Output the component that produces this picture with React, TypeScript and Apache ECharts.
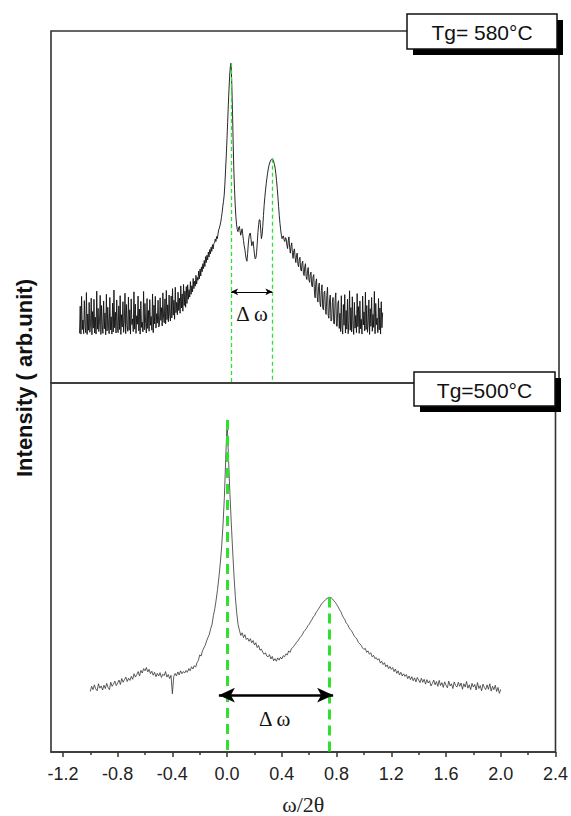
import { useEffect, useRef } from "react";
import * as echarts from "echarts";

// Tg = 580 °C scan, evenly sampled in ω/2θ
const TOP_X_START = -1.08;
const TOP_X_STEP = 0.005;
const topIntensity = [
  // -1.080 … -0.505
  14.1, 21.8, 13.9, 24.6, 15.2, 17.9, 14.0, 23.4, 16.1, 14.3, 25.7, 13.8, 19.6, 15.0, 22.9, 14.4, 16.8, 24.1, 13.7, 20.3,
  15.6, 23.8, 14.2, 18.7, 13.9, 26.1, 15.3, 21.2, 14.6, 17.4, 24.9, 13.8, 22.0, 16.2, 14.1, 23.3, 15.4, 19.9, 13.7, 25.2,
  14.8, 21.5, 16.4, 14.0, 24.3, 15.1, 18.8, 13.9, 22.7, 14.5, 26.4, 15.7, 20.1, 14.2, 23.6, 16.0, 14.3, 21.9, 15.2, 24.8,
  13.8, 19.4, 15.9, 23.1, 14.4, 17.6, 25.5, 14.0, 22.3, 16.3, 14.7, 24.4, 15.0, 20.8, 13.9, 23.9, 16.6, 18.2, 14.6, 25.9,
  15.3, 22.4, 14.1, 19.1, 16.7, 24.7, 14.8, 21.0, 13.9, 23.2, 15.8, 17.3, 14.5, 26.0, 15.1, 22.6, 16.9, 14.2, 24.0, 15.5,
  20.6, 14.7, 23.7, 16.4, 18.9, 15.0, 25.3, 14.3, 22.1, 16.8, 24.6, 15.6, 19.7, 17.0, 23.5, 15.9,
  // -0.500 … -0.305
  16.5, 24.2, 17.8, 21.4, 16.2, 25.6, 18.4, 17.1, 23.9, 16.8, 26.3, 18.0, 22.2, 17.4, 25.0, 19.1, 17.6, 24.7, 18.5, 26.8,
  19.3, 23.5, 18.1, 27.2, 20.0, 22.9, 19.4, 25.8, 20.6, 24.1, 19.8, 27.6, 21.3, 25.3, 20.4, 28.0, 22.0, 26.1, 21.5, 27.4,
  // -0.300 … -0.105
  22.6, 27.9, 23.8, 26.5, 24.4, 28.8, 25.2, 27.6, 25.9, 29.7, 26.8, 28.9, 27.5, 30.6, 28.1, 30.0, 29.2, 31.8, 29.6, 32.4,
  30.4, 33.0, 31.6, 33.9, 32.5, 34.8, 33.1, 35.9, 34.2, 36.3, 35.0, 37.2, 35.8, 37.9, 36.7, 38.6, 37.4, 39.3, 38.1, 39.6,
  // -0.100 … 0.095
  39.8, 40.9, 40.2, 41.6, 41.0, 42.3, 43.5, 44.0, 44.8, 45.7, 47.0, 48.4, 50.2, 51.6, 53.4, 56.5, 60.5, 64.5, 69.0, 74.0,
  79.0, 83.5, 87.5, 90.0, 90.9, 85.0, 77.6, 68.5, 60.5, 55.0, 50.6, 47.2, 44.9, 43.6, 43.0, 44.1, 44.5, 43.2, 42.0, 42.9,
  // 0.100 … 0.295
  43.8, 42.1, 40.5, 39.0, 38.0, 36.4, 35.2, 34.6, 36.8, 39.5, 41.5, 42.4, 42.6, 40.8, 39.0, 39.6, 40.2, 38.3, 36.4, 35.3,
  35.5, 37.0, 39.8, 42.8, 45.0, 46.4, 46.3, 43.5, 41.0, 42.0, 44.5, 47.6, 50.5, 52.8, 54.8, 56.6, 58.2, 59.6, 60.8, 61.8,
  // 0.300 … 0.495
  62.5, 63.0, 63.4, 63.6, 63.7, 63.4, 62.8, 62.0, 61.0, 59.5, 57.5, 55.3, 52.8, 50.1, 47.5, 45.3, 43.5, 42.0, 41.0, 41.6,
  41.8, 40.6, 40.2, 41.3, 40.9, 39.2, 38.2, 40.4, 41.5, 38.6, 36.9, 38.8, 39.8, 37.0, 35.4, 37.5, 38.1, 35.6, 34.2, 36.3,
  // 0.500 … 0.795
  36.9, 33.8, 33.0, 35.2, 35.7, 32.4, 31.8, 34.0, 34.6, 31.2, 30.5, 33.1, 33.9, 30.2, 29.4, 32.0, 32.8, 29.3, 28.6, 31.0,
  31.5, 27.8, 27.3, 30.2, 30.8, 25.9, 24.2, 28.6, 29.6, 24.5, 23.0, 27.4, 28.4, 22.8, 21.7, 26.3, 27.9, 21.4, 20.8, 25.7,
  26.1, 20.3, 19.5, 24.9, 27.2, 19.2, 18.4, 23.6, 25.0, 17.6, 17.9, 22.8, 24.3, 16.9, 16.8, 23.5, 25.6, 16.2, 16.1, 22.7,
  // 0.800 … 1.120
  23.4, 15.5, 19.8, 14.6, 24.8, 15.9, 13.9, 22.3, 16.4, 25.1, 14.2, 20.6, 15.3, 23.8, 14.0, 17.7, 26.2, 15.0, 21.4, 14.5,
  24.5, 16.3, 13.8, 22.9, 15.6, 19.2, 14.3, 25.4, 16.0, 21.7, 14.1, 23.3, 15.4, 18.1, 13.9, 24.7, 16.5, 20.2, 14.8, 25.8,
  15.2, 22.0, 14.4, 17.0, 23.6, 13.8, 21.1, 16.1, 24.3, 14.7, 19.5, 15.8, 26.0, 14.0, 22.6, 16.6, 18.4, 14.3, 24.0, 15.1,
  21.3, 13.9, 23.1, 15.7, 20.0,
];
const topPeakIndex = [220, 280];

// Tg = 500 °C scan
const BOTTOM_X_START = -1.0;
const BOTTOM_X_STEP = 0.01;
const bottomIntensity = [
  16.4, 17.8, 16.9, 18.2, 17.1, 16.6, 18.5, 17.3, 17.9, 16.8,
  18.1, 17.2, 18.6, 17.5, 16.9, 18.9, 17.8, 18.4, 19.2, 18.0,
  18.7, 19.5, 18.3, 19.9, 18.9, 19.6, 20.3, 19.1, 20.0, 19.4,
  20.5, 19.7, 21.2, 20.3, 21.0, 21.8, 20.6, 22.1, 21.4, 22.6,
  22.0, 22.9, 21.7, 22.4, 21.2, 21.9, 20.8, 21.6, 20.4, 21.3,
  20.6, 21.5, 20.2, 21.1, 20.7, 21.8, 20.3, 21.0, 19.9, 20.8,
  15.8, 20.4, 21.3, 20.6, 21.7, 20.9, 22.0, 21.2, 21.8, 21.4,
  22.1, 21.6, 22.6, 22.0, 23.1, 22.5, 23.4, 23.0, 24.2, 24.8,
  26.3, 26.0, 27.4, 28.2, 28.9, 30.1, 31.0, 31.9, 33.4, 34.6,
  37.0, 38.8, 41.2, 44.0, 47.3, 51.0, 55.6, 61.5, 69.0, 79.5,
  90.0, 80.0, 70.5, 62.5, 55.0, 48.0, 42.2, 37.8, 34.6, 33.0,
  31.6, 32.3, 31.0, 31.8, 30.5, 30.9, 30.0, 30.7, 29.6, 30.2,
  29.0, 29.6, 28.3, 28.9, 27.6, 27.9, 27.1, 26.5, 26.9, 26.0,
  25.8, 26.4, 25.2, 25.9, 24.7, 25.3, 24.6, 25.5, 24.9, 25.7,
  25.2, 26.1, 25.8, 26.6, 26.3, 27.4, 27.0, 28.0, 28.3, 28.8,
  29.3, 29.9, 30.2, 30.9, 31.3, 31.8, 32.6, 33.0, 33.5, 34.2,
  34.6, 35.3, 35.9, 36.6, 37.0, 37.8, 38.3, 38.9, 39.5, 40.1,
  40.5, 40.9, 41.3, 41.6, 41.8, 41.9, 41.8, 41.5, 41.0, 40.6,
  40.0, 39.4, 38.7, 38.1, 37.2, 36.5, 35.9, 35.0, 34.6, 33.8,
  33.2, 32.8, 32.1, 31.4, 31.0, 30.5, 29.7, 29.3, 28.9, 28.2,
  27.8, 28.1, 27.0, 27.4, 26.5, 26.9, 25.8, 26.2, 25.3, 25.6,
  24.9, 25.3, 24.1, 24.6, 23.7, 24.2, 23.1, 23.6, 22.6, 23.2,
  22.4, 22.9, 21.8, 22.5, 21.3, 22.0, 20.9, 21.6, 20.6, 21.2,
  20.5, 21.0, 19.9, 20.6, 19.6, 20.4, 19.3, 20.1, 19.0, 20.2,
  19.5, 18.8, 20.0, 18.9, 19.7, 18.4, 19.6, 18.7, 19.3, 17.9,
  18.6, 19.5, 18.2, 19.1, 17.8, 19.4, 18.0, 18.8, 17.5, 19.0,
  18.1, 17.4, 19.2, 17.9, 18.5, 17.2, 19.0, 18.0, 17.6, 18.9,
  17.8, 18.7, 17.0, 18.5, 17.6, 19.1, 17.3, 18.2, 16.9, 18.6,
  17.6, 18.3, 16.8, 18.8, 17.2, 18.0, 16.6, 18.4, 17.5, 16.9,
  18.2, 17.0, 18.5, 16.5, 17.8, 16.9, 18.1, 16.4, 17.5, 15.9, 17.0,
];
const bottomPeakIndex = [100, 175];

// x-axis ticks
const majorTicks = [-1.2, -0.8, -0.4, 0.0, 0.4, 0.8, 1.2, 1.6, 2.0, 2.4];
const minorTicks = [-1.0, -0.6, -0.2, 0.2, 0.6, 1.0, 1.4, 1.8, 2.2];
const X_MIN = -1.287;
const X_MAX = 2.4;

// Δω arrows (x extent, intensity level) and label anchors
const topArrowSpan = [0.02, 0.32];
const topArrowLevel = 25.9;
const bottomArrowSpan = [-0.06, 0.775];
const bottomArrowLevel = 15.4;
const deltaLabel = "Δ ω";
const topDeltaAt = [0.172, 19.6];
const bottomDeltaAt = [0.347, 8.9];
const panelTitles = ["Tg= 580°C", "Tg=500°C"];

const SANS = '"Liberation Sans", Arial, Helvetica, sans-serif';
const SERIF = '"Liberation Serif", "Times New Roman", serif';
const GREEN = "#2fe02f";
const FRAME = "#333";

function toPairs(start: number, step: number, values: number[]) {
  return values.map((v, i) => [Number((start + i * step).toFixed(4)), v]);
}

function peakPoints(start: number, step: number, values: number[], idx: number[]) {
  return idx.map((i) => [Number((start + i * step).toFixed(4)), values[i]]);
}

function panelBox(x: number, y: number, w: number, h: number, text: string) {
  return [
    { type: "rect", z: 100, shape: { x: x + 6, y: y + 6, width: w, height: h }, style: { fill: "#000" } },
    { type: "rect", z: 101, shape: { x, y, width: w, height: h }, style: { fill: "#fff", stroke: "#111", lineWidth: 1.5 } },
    {
      type: "text",
      z: 102,
      x: x + w / 2,
      y: y + h / 2 + 1,
      style: { text, font: `21px ${SANS}`, fill: "#111", align: "center", verticalAlign: "middle" },
    },
  ];
}

function annotations(
  peaks: number[][],
  span: number[],
  arrowLevel: number,
  green: { width: number; dash: number[] },
  arrow: { width: number; size: number[] },
  deltaAt: number[]
) {
  const greenLines = peaks.map((p) => [
    { coord: [p[0], p[1]], lineStyle: { color: GREEN, width: green.width, type: green.dash } },
    { coord: [p[0], 0] },
  ]);
  const arrowLine = [
    {
      coord: [span[0], arrowLevel],
      symbol: "arrow",
      symbolSize: arrow.size,
      lineStyle: { color: "#000", width: arrow.width, type: "solid" },
    },
    { coord: [span[1], arrowLevel], symbol: "arrow", symbolSize: arrow.size },
  ];
  return {
    markLine: {
      silent: true,
      symbol: "none",
      label: { show: false },
      itemStyle: { color: "#000" },
      data: [...greenLines, arrowLine],
    },
    markPoint: {
      silent: true,
      symbol: "rect",
      symbolSize: 1,
      itemStyle: { color: "rgba(0,0,0,0)" },
      label: { show: true, position: "inside", formatter: deltaLabel, fontFamily: SERIF, fontSize: 21, color: "#111" },
      data: [{ coord: deltaAt }],
    },
  };
}

export default function App() {
  const ref = useRef<HTMLDivElement>(null);

  useEffect(() => {
    if (!ref.current) return;
    const chart = echarts.init(ref.current, undefined, { renderer: "svg" });

    const topPeaks = peakPoints(TOP_X_START, TOP_X_STEP, topIntensity, topPeakIndex);
    const bottomPeaks = peakPoints(BOTTOM_X_START, BOTTOM_X_STEP, bottomIntensity, bottomPeakIndex);

    const option: any = {
      animation: false,
      backgroundColor: "#fff",
      grid: [
        { left: 51, right: 12, top: 31, height: 352, show: true, borderColor: FRAME, borderWidth: 1.6, backgroundColor: "transparent" },
        { left: 51, right: 12, top: 383, height: 370, show: true, borderColor: FRAME, borderWidth: 1.6, backgroundColor: "transparent" },
      ],
      xAxis: [
        { type: "value", gridIndex: 0, min: X_MIN, max: X_MAX, show: false },
        {
          type: "value",
          gridIndex: 1,
          position: "bottom",
          min: X_MIN,
          max: X_MAX,
          splitLine: { show: false },
          axisLine: { show: true, lineStyle: { color: FRAME, width: 1.6 } },
          axisTick: { show: true, customValues: majorTicks, length: 5, lineStyle: { color: FRAME, width: 1.5 } },
          axisLabel: {
            customValues: majorTicks,
            formatter: (v: number) => v.toFixed(1),
            fontSize: 18,
            fontFamily: SANS,
            color: "#222",
            margin: 13,
          },
          name: "ω/2θ",
          nameLocation: "middle",
          nameGap: 41,
          nameTextStyle: { fontFamily: SERIF, fontSize: 22, color: "#222" },
        },
        {
          type: "value",
          gridIndex: 1,
          position: "bottom",
          offset: 0,
          min: X_MIN,
          max: X_MAX,
          splitLine: { show: false },
          axisLine: { show: false },
          axisTick: { show: true, customValues: minorTicks, length: 3, lineStyle: { color: FRAME, width: 1.5 } },
          axisLabel: { show: false },
        },
      ],
      yAxis: [
        { type: "value", gridIndex: 0, min: 0, max: 100, show: false },
        { type: "value", gridIndex: 1, min: 0, max: 100, show: false },
      ],
      series: [
        {
          type: "line",
          xAxisIndex: 0,
          yAxisIndex: 0,
          data: toPairs(TOP_X_START, TOP_X_STEP, topIntensity),
          showSymbol: false,
          symbol: "none",
          silent: true,
          lineStyle: { color: "#111", width: 0.9 },
          ...annotations(topPeaks, topArrowSpan, topArrowLevel, { width: 1.3, dash: [4, 3] }, { width: 1, size: [5, 7] }, topDeltaAt),
        },
        {
          type: "line",
          xAxisIndex: 1,
          yAxisIndex: 1,
          data: toPairs(BOTTOM_X_START, BOTTOM_X_STEP, bottomIntensity),
          showSymbol: false,
          symbol: "none",
          silent: true,
          lineStyle: { color: "#333", width: 0.8 },
          ...annotations(bottomPeaks, bottomArrowSpan, bottomArrowLevel, { width: 3, dash: [10, 6] }, { width: 2.5, size: [11, 16] }, bottomDeltaAt),
        },
      ],
      graphic: [
        ...panelBox(407, 14, 150, 35, panelTitles[0]),
        ...panelBox(414, 372, 141, 34, panelTitles[1]),
        {
          type: "text",
          z: 102,
          x: 24,
          y: 378,
          rotation: Math.PI / 2,
          style: {
            text: "Intensity ( arb.unit)",
            font: `bold 22px ${SANS}`,
            fill: "#111",
            align: "center",
            verticalAlign: "middle",
          },
        },
      ],
    };

    chart.setOption(option);
    return () => chart.dispose();
  }, []);

  return <div ref={ref} style={{ position: "absolute", left: 0, top: 0, width: 571, height: 816 }} />;
}
